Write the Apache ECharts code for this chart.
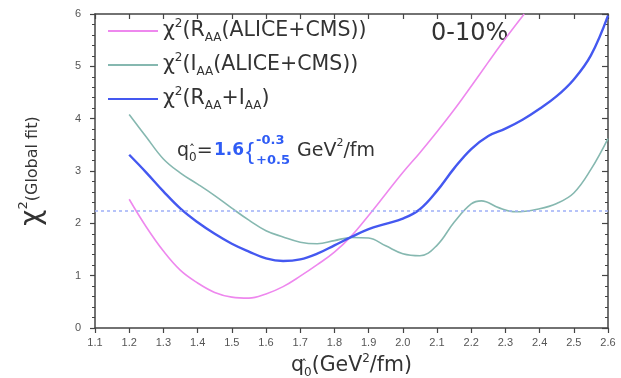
<!DOCTYPE html>
<html>
<head>
<meta charset="utf-8">
<script src="https://cdn.jsdelivr.net/npm/echarts@6/dist/echarts.min.js"></script>
<style>
html,body{margin:0;padding:0;background:#fff;}
#chart{width:621px;height:378px;}
</style>
</head>
<body>
<div id="chart"></div>
<script>
// ---- data ----
const seriesNames = ['RAA', 'IAA', 'RAA+IAA'];

const qRAA = [1.20,1.25,1.30,1.35,1.40,1.45,1.50,1.55,1.60,1.65,1.70,1.75,1.80,1.85,1.90,1.95,2.00,2.05,2.10,2.15,2.20,2.25,2.30,2.355];
const chiRAA = [2.46,1.93,1.47,1.10,0.86,0.68,0.59,0.57,0.65,0.79,0.99,1.21,1.45,1.76,2.15,2.56,2.97,3.35,3.75,4.17,4.62,5.08,5.53,6.0];

const qIAA = [1.20,1.25,1.30,1.35,1.40,1.45,1.50,1.55,1.60,1.65,1.70,1.75,1.80,1.85,1.90,1.95,2.00,2.05,2.10,2.15,2.20,2.23,2.28,2.33,2.40,2.45,2.50,2.55,2.60];
const chiIAA = [4.08,3.65,3.23,2.96,2.75,2.53,2.29,2.06,1.86,1.74,1.64,1.61,1.67,1.73,1.72,1.57,1.42,1.38,1.58,2.02,2.37,2.43,2.30,2.22,2.28,2.38,2.58,3.03,3.62];

const qBoth = [1.20,1.25,1.30,1.35,1.40,1.45,1.50,1.55,1.60,1.65,1.70,1.75,1.80,1.85,1.90,1.95,2.00,2.05,2.10,2.15,2.20,2.25,2.30,2.35,2.40,2.45,2.50,2.55,2.60];
const chiBoth = [3.31,2.97,2.61,2.28,2.02,1.80,1.61,1.46,1.33,1.28,1.31,1.42,1.58,1.74,1.89,1.99,2.09,2.27,2.62,3.05,3.42,3.67,3.81,3.98,4.19,4.43,4.75,5.21,5.97];

const refLevel = 2.25;
const xMin = 1.1, xMax = 2.6, xStep = 0.1;
const yMin = 0, yMax = 6, yStep = 1;

function pairs(xs, ys){ return xs.map((x,i)=>[x, ys[i]]); }

const FONT = '"DejaVu Sans", "Liberation Sans", sans-serif';
const AFONT = '"Liberation Sans", Arial, sans-serif';
const TXT = '#333';
const BLUE = '#2f5cf5';

const legendRich = {
  n:   {fontSize: 20.5, fontFamily: FONT, color: TXT, lineHeight: 26, verticalAlign: 'middle'},
  sup: {fontSize: 12, fontFamily: FONT, color: TXT, lineHeight: 12, verticalAlign: 'top'},
  sub: {fontSize: 12, fontFamily: FONT, color: TXT, lineHeight: 12, verticalAlign: 'bottom'}
};
const legendLabels = {
  'RAA': '{n|χ}{sup|2}{n|(R}{sub|AA}{n|(ALICE+CMS))}',
  'IAA': '{n|χ}{sup|2}{n|(I}{sub|AA}{n|(ALICE+CMS))}',
  'RAA+IAA': '{n|χ}{sup|2}{n|(R}{sub|AA}{n|+I}{sub|AA}{n|)}'
};

const chart = echarts.init(document.getElementById('chart'), null, {renderer: 'canvas'});

const axisLineStyle = {color: '#444', width: 1.5};

// q0-hat label pieces (hat token has zero width so it sits over the subscript 0)
const qhatRich = (size) => ({
  q:   {fontSize: size, fontFamily: FONT, color: TXT, fill: TXT, lineHeight: 26, verticalAlign: 'middle'},
  h:   {fontSize: 12, fontFamily: FONT, color: TXT, fill: TXT, lineHeight: 26, verticalAlign: 'middle', width: 0, align: 'left'},
  s:   {fontSize: 12, fontFamily: FONT, color: TXT, fill: TXT, lineHeight: 12, verticalAlign: 'bottom'}
});

const option = {
  animation: false,
  backgroundColor: '#fff',
  grid: {left: 95, right: 13, top: 14, bottom: 50, outerBoundsMode: 'none', containLabel: false},
  legend: {
    orient: 'vertical',
    left: 103,
    top: 13,
    itemWidth: 50,
    itemHeight: 2,
    itemGap: 8,
    icon: 'rect',
    data: seriesNames,
    formatter: name => legendLabels[name],
    textStyle: {rich: legendRich}
  },
  xAxis: [{
    type: 'value', min: xMin, max: xMax, interval: xStep,
    position: 'bottom',
    axisLine: {show: true, onZero: false, lineStyle: axisLineStyle},
    axisTick: {show: true, inside: false, length: 5, lineStyle: {color: '#444', width: 1.2}},
    axisLabel: {color: '#555', fontSize: 11, fontFamily: AFONT, margin: 9,
      formatter: v => v.toFixed(1)},
    splitLine: {show: false},
    name: '{q|q}{h|ˆ}{s|0}{n|(GeV}{sup|2}{n|/fm)}',
    nameLocation: 'middle',
    nameGap: 19,
    nameTextStyle: {rich: Object.assign(qhatRich(20.5), {
      n:   {fontSize: 20.5, fontFamily: FONT, color: TXT, lineHeight: 26, verticalAlign: 'middle'},
      sup: {fontSize: 12, fontFamily: FONT, color: TXT, lineHeight: 12, verticalAlign: 'top'}
    })}
  }, {
    type: 'value', min: xMin, max: xMax, interval: xStep,
    position: 'top',
    axisLine: {show: true, onZero: false, lineStyle: axisLineStyle},
    axisTick: {show: true, inside: true, length: 5, lineStyle: {color: '#444', width: 1.2}},
    axisLabel: {show: false},
    splitLine: {show: false}
  }],
  yAxis: [{
    type: 'value', min: yMin, max: yMax, interval: yStep,
    position: 'left',
    axisLine: {show: true, onZero: false, lineStyle: axisLineStyle},
    axisTick: {show: true, inside: false, length: 5, lineStyle: {color: '#444', width: 1.2}},
    minorTick: {show: true, splitNumber: 5, length: 3, lineStyle: {color: '#444', width: 1}},
    axisLabel: {color: '#555', fontSize: 11, fontFamily: AFONT, margin: 14},
    splitLine: {show: false},
    name: '{c|χ}{sup|2}{n|(Global fit)}',
    nameLocation: 'middle',
    nameGap: 46,
    nameTextStyle: {rich: {
      c:   {fontSize: 28, fontFamily: FONT, color: TXT, lineHeight: 32, verticalAlign: 'middle'},
      n:   {fontSize: 16, fontFamily: FONT, color: TXT, lineHeight: 32, verticalAlign: 'middle'},
      sup: {fontSize: 13, fontFamily: FONT, color: TXT, lineHeight: 13, verticalAlign: 'top'}
    }}
  }, {
    type: 'value', min: yMin, max: yMax, interval: yStep,
    position: 'right',
    axisLine: {show: true, onZero: false, lineStyle: axisLineStyle},
    axisTick: {show: true, inside: true, length: 6, lineStyle: {color: '#444', width: 1.2}},
    minorTick: {show: true, splitNumber: 5, length: 3, lineStyle: {color: '#444', width: 1}},
    axisLabel: {show: false},
    splitLine: {show: false}
  }],
  series: [{
    name: 'RAA', type: 'line', smooth: 0.4, showSymbol: false,
    data: pairs(qRAA, chiRAA),
    lineStyle: {color: '#ee88ee', width: 1.6},
    itemStyle: {color: '#ee88ee'},
    z: 3
  }, {
    name: 'IAA', type: 'line', smooth: 0.4, showSymbol: false,
    data: pairs(qIAA, chiIAA),
    lineStyle: {color: '#86b8b0', width: 1.6},
    itemStyle: {color: '#86b8b0'},
    z: 3
  }, {
    name: 'RAA+IAA', type: 'line', smooth: 0.4, showSymbol: false,
    data: pairs(qBoth, chiBoth),
    lineStyle: {color: '#4458f0', width: 2.4},
    itemStyle: {color: '#4458f0'},
    z: 4,
    markLine: {
      silent: true, symbol: 'none', label: {show: false},
      lineStyle: {color: '#9fb0f8', type: [3, 3], width: 1.6},
      data: [{yAxis: refLevel}]
    }
  }],
  graphic: [{
    type: 'text', x: 431, y: 34,
    style: {text: '0-10%', fontSize: 24, fontFamily: FONT, fill: TXT, verticalAlign: 'middle'}
  }, {
    type: 'text', x: 177, y: 151,
    style: {
      text: '{q|q}{h|ˆ}{s|0}{q|=}',
      verticalAlign: 'middle',
      rich: qhatRich(19)
    }
  }, {
    type: 'text', x: 214, y: 151,
    style: {text: '1.6', fontSize: 17, fontWeight: 'bold', fontFamily: FONT, fill: BLUE, verticalAlign: 'middle'}
  }, {
    type: 'text', x: 246, y: 152,
    style: {text: '{', fontSize: 24, fontFamily: AFONT, fill: BLUE, verticalAlign: 'middle'}
  }, {
    type: 'text', x: 256, y: 141,
    style: {text: '-0.3', fontSize: 13, fontWeight: 'bold', fontFamily: FONT, fill: BLUE, verticalAlign: 'middle'}
  }, {
    type: 'text', x: 256, y: 161,
    style: {text: '+0.5', fontSize: 13, fontWeight: 'bold', fontFamily: FONT, fill: BLUE, verticalAlign: 'middle'}
  }, {
    type: 'text', x: 297, y: 151,
    style: {
      text: '{n|GeV}{sup|2}{n|/fm}',
      verticalAlign: 'middle',
      rich: {
        n: {fontSize: 19, fontFamily: FONT, fill: TXT, lineHeight: 26, verticalAlign: 'middle'},
        sup: {fontSize: 11, fontFamily: FONT, fill: TXT, lineHeight: 11, verticalAlign: 'top'}
      }
    }
  }]
};
chart.setOption(option);
</script>
</body>
</html>
